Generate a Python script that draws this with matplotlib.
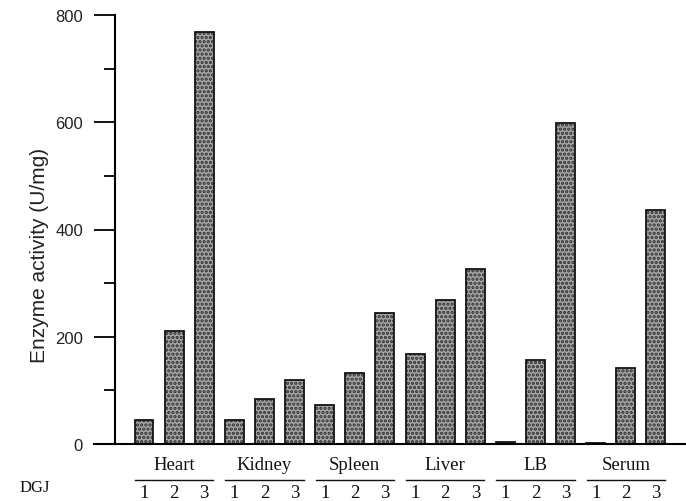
import matplotlib
matplotlib.use("Agg")
import matplotlib.pyplot as plt
import matplotlib.transforms as mtransforms
from matplotlib.lines import Line2D
import numpy as np

# ---- data ----
tissues = ["Heart", "Kidney", "Spleen", "Liver", "LB", "Serum"]
dgj_labels = ["1", "2", "3"]
dgj1 = [45, 44, 73, 168, 3, 2]
dgj2 = [210, 84, 132, 268, 157, 142]
dgj3 = [768, 119, 244, 326, 598, 437]
y_ticks_major = [0, 200, 400, 600, 800]
y_label = "Enzyme activity (U/mg)"
x_row_label = "DGJ"

plt.rcParams["hatch.linewidth"] = 1.6

W, H = 686, 502
fig = plt.figure(figsize=(W / 100, H / 100), dpi=100)
ax = fig.add_axes([115 / W, (H - 445) / H, (W - 115) / W, 429 / H])

series = [dgj1, dgj2, dgj3]
n_groups = len(tissues)
n_series = len(series)
bar_w = 0.63

for gi in range(n_groups):
    for si in range(n_series):
        x = gi * n_series + si
        v = series[si][gi]
        # textured fill (hatch drawn in edge colour, no outline)
        ax.bar(x, v, width=bar_w, facecolor="#a6a6a6", edgecolor="#2e2e2e",
               linewidth=0, hatch="....", zorder=2)
        # outline
        ax.bar(x, v, width=bar_w, facecolor="none", edgecolor="#141414",
               linewidth=1.3, zorder=2.5)

ax.set_xlim(-0.963, n_groups * n_series - 1 + 0.997)
ax.set_ylim(0, 800)

for s in ["top", "right"]:
    ax.spines[s].set_visible(False)
ax.spines["left"].set_linewidth(1.5)
ax.spines["bottom"].set_linewidth(1.5)
ax.spines["bottom"].set_zorder(3)

ax.set_xticks([])
ax.set_yticks(y_ticks_major)
ax.set_yticks(np.arange(100, 800, 200), minor=True)
ax.tick_params(axis="y", which="major", direction="out", length=15, width=1.3,
               pad=8, labelsize=12)
ax.tick_params(axis="y", which="minor", direction="out", length=7.8, width=1.3)
for lab in ax.get_yticklabels():
    lab.set_fontfamily("Liberation Sans")
    lab.set_color("#222222")

# extend baseline to the left to meet the 0 tick
ax.plot([-0.963 - 21 / 30.1, -0.963], [0, 0], color="black", lw=1.5,
        clip_on=False, zorder=3)

fig.text(39.5 / W, 1 - 255 / H, y_label, rotation=90, ha="center", va="center",
         fontsize=15, fontfamily="Liberation Sans", color="#222222")

trans = mtransforms.blended_transform_factory(ax.transData, fig.transFigure)
for gi, name in enumerate(tissues):
    c = gi * n_series + 1
    ax.text(c, 1 - 466 / H, name, transform=trans, ha="center", va="center",
            fontsize=13.5, fontfamily="Liberation Serif", color="#111111")
    ax.add_line(Line2D([c - 1.3, c + 1.3], [1 - 480.7 / H, 1 - 480.7 / H],
                       transform=trans, color="#111111", lw=1.0, clip_on=False))
    for si, lab in enumerate(dgj_labels):
        ax.text(gi * n_series + si, 1 - 493.5 / H, lab, transform=trans,
                ha="center", va="center", fontsize=13.5,
                fontfamily="Liberation Serif", color="#111111")

fig.text(35 / W, 1 - 488 / H, x_row_label, ha="center", va="center",
         fontsize=12, fontfamily="Liberation Serif", color="#111111")

fig.savefig("out.png", dpi=100)
